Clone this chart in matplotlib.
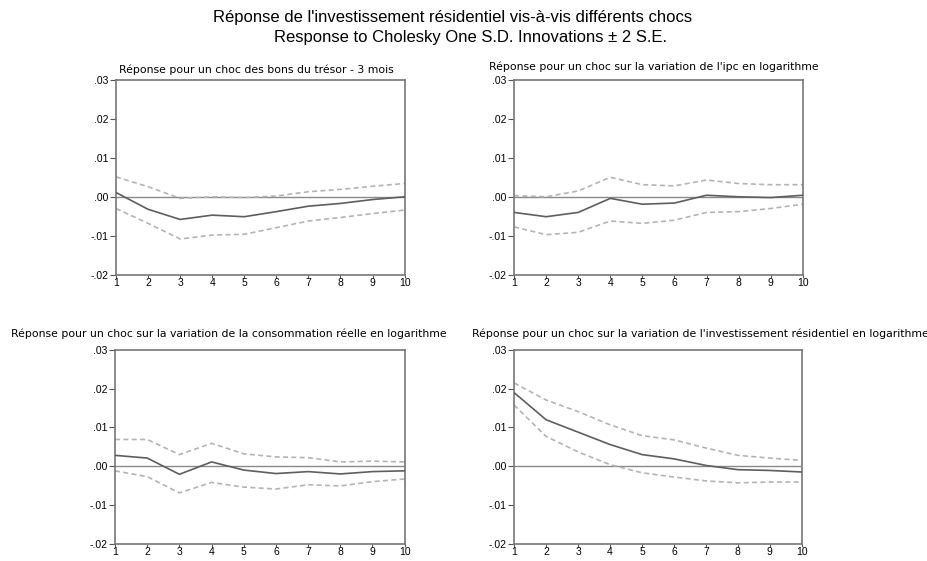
import numpy as np
import matplotlib
matplotlib.use("Agg")
import matplotlib.pyplot as plt

plt.rcParams['font.family'] = ['Liberation Sans', 'DejaVu Sans']

# horizons of the impulse responses
periods = np.arange(1, 11)

# shock: 3-month treasury bills
tbill_resp = [0.0011, -0.0032, -0.0058, -0.0047, -0.0051, -0.0038, -0.0024, -0.0017, -0.0007, 0.0000]
tbill_up = [0.0051, 0.0026, -0.0004, 0.0000, -0.0002, 0.0002, 0.0013, 0.0019, 0.0027, 0.0034]
tbill_lo = [-0.0030, -0.0068, -0.0108, -0.0098, -0.0096, -0.0079, -0.0062, -0.0053, -0.0043, -0.0034]

# shock: log change of CPI
cpi_resp = [-0.0040, -0.0051, -0.0040, -0.0004, -0.0019, -0.0016, 0.0004, 0.0000, -0.0002, 0.0004]
cpi_up = [0.0003, 0.0000, 0.0015, 0.0050, 0.0031, 0.0028, 0.0043, 0.0034, 0.0031, 0.0031]
cpi_lo = [-0.0077, -0.0097, -0.0091, -0.0062, -0.0068, -0.0060, -0.0040, -0.0038, -0.0030, -0.0019]

# shock: log change of real consumption
cons_resp = [0.0028, 0.0021, -0.0021, 0.0011, -0.0010, -0.0019, -0.0014, -0.0020, -0.0014, -0.0012]
cons_up = [0.0069, 0.0069, 0.0030, 0.0059, 0.0032, 0.0024, 0.0022, 0.0011, 0.0013, 0.0011]
cons_lo = [-0.0012, -0.0027, -0.0069, -0.0042, -0.0054, -0.0059, -0.0048, -0.0051, -0.0040, -0.0033]

# shock: log change of residential investment (own shock)
inv_resp = [0.0190, 0.0120, 0.0088, 0.0056, 0.0030, 0.0019, 0.0002, -0.0009, -0.0011, -0.0015]
inv_up = [0.0215, 0.0171, 0.0141, 0.0107, 0.0079, 0.0068, 0.0047, 0.0028, 0.0021, 0.0015]
inv_lo = [0.0158, 0.0077, 0.0037, 0.0004, -0.0017, -0.0028, -0.0038, -0.0043, -0.0041, -0.0041]

panel_titles = [
    "Réponse pour un choc des bons du trésor - 3 mois",
    "Réponse pour un choc sur la variation de l'ipc en logarithme",
    "Réponse pour un choc sur la variation de la consommation réelle en logarithme",
    "Réponse pour un choc sur la variation de l'investissement résidentiel en logarithme",
]
y_ticks = [-0.02, -0.01, 0.00, 0.01, 0.02, 0.03]
y_labels = ["-.02", "-.01", ".00", ".01", ".02", ".03"]

fig = plt.figure(figsize=(9.28, 5.61), dpi=100)
fig.text(0.488, 0.968, "Réponse de l'investissement résidentiel vis-à-vis différents chocs",
         ha='center', va='center', fontsize=12)
fig.text(0.507, 0.933, "Response to Cholesky One S.D. Innovations \u00b1 2 S.E.",
         ha='center', va='center', fontsize=12)

boxes = [
    [0.125, 0.510, 0.311, 0.348],
    [0.554, 0.510, 0.311, 0.348],
    [0.124, 0.031, 0.312, 0.345],
    [0.554, 0.031, 0.310, 0.345],
]
title_pos = [(0.276, 0.876), (0.705, 0.881), (0.247, 0.405), (0.755, 0.405)]
series = [
    (tbill_resp, tbill_up, tbill_lo),
    (cpi_resp, cpi_up, cpi_lo),
    (cons_resp, cons_up, cons_lo),
    (inv_resp, inv_up, inv_lo),
]

for box, (tx, ty), title, (resp, up, lo) in zip(boxes, title_pos, panel_titles, series):
    ax = fig.add_axes(box)
    ax.axhline(0, color='#8a8a8a', lw=1.0, zorder=1)
    ax.plot(periods, up, color='#b4b4b4', lw=1.2, ls=(0, (3, 2)), zorder=2)
    ax.plot(periods, lo, color='#b4b4b4', lw=1.2, ls=(0, (3, 2)), zorder=2)
    ax.plot(periods, resp, color='#5e5e5e', lw=1.2, zorder=3)
    ax.set_xlim(1, 10)
    ax.set_ylim(-0.02, 0.03)
    ax.set_xticks(periods)
    ax.set_yticks(y_ticks)
    ax.set_yticklabels(y_labels)
    ax.tick_params(labelsize=7.5, width=0.8, color='#555555')
    ax.tick_params(axis='y', length=4, pad=1.5)
    ax.tick_params(axis='x', length=2, pad=0.5)
    for sp in ax.spines.values():
        sp.set_color('#777777')
        sp.set_linewidth(1.2)
    fig.text(tx, ty, title, ha='center', va='center', fontsize=7.8,
             family=['DejaVu Sans'])

fig.savefig("out.png", dpi=100)
